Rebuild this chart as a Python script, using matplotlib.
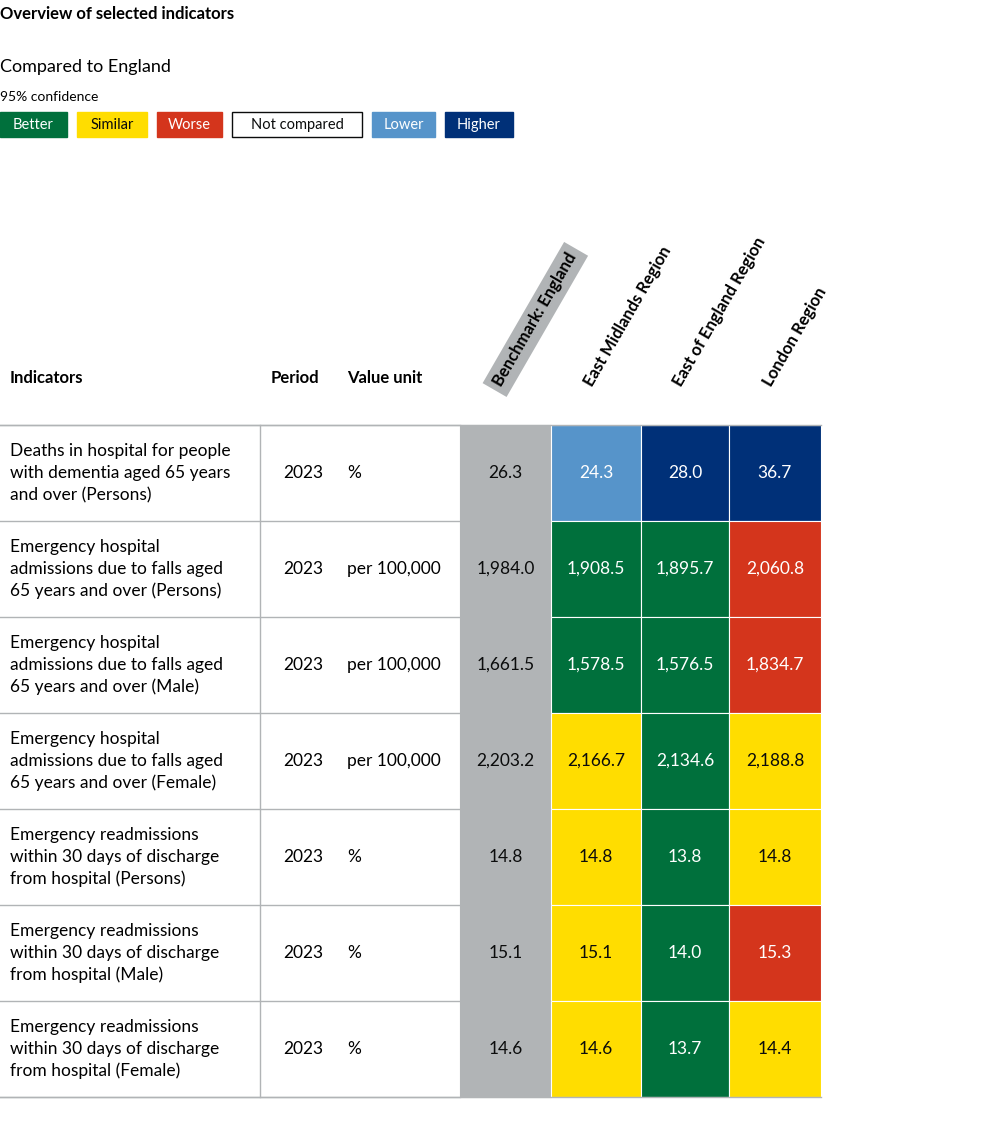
import matplotlib.pyplot as plt
from matplotlib.patches import Rectangle

plt.rcParams['font.family'] = ['Lato', 'DejaVu Sans']

indicators = [
    "Deaths in hospital for people\nwith dementia aged 65 years\nand over (Persons)",
    "Emergency hospital\nadmissions due to falls aged\n65 years and over (Persons)",
    "Emergency hospital\nadmissions due to falls aged\n65 years and over (Male)",
    "Emergency hospital\nadmissions due to falls aged\n65 years and over (Female)",
    "Emergency readmissions\nwithin 30 days of discharge\nfrom hospital (Persons)",
    "Emergency readmissions\nwithin 30 days of discharge\nfrom hospital (Male)",
    "Emergency readmissions\nwithin 30 days of discharge\nfrom hospital (Female)",
]
periods = ["2023"] * 7
units = ["%", "per 100,000", "per 100,000", "per 100,000", "%", "%", "%"]
areas = ["Benchmark: England", "East Midlands Region", "East of England Region", "London Region"]
values = [
    ["26.3", "24.3", "28.0", "36.7"],
    ["1,984.0", "1,908.5", "1,895.7", "2,060.8"],
    ["1,661.5", "1,578.5", "1,576.5", "1,834.7"],
    ["2,203.2", "2,166.7", "2,134.6", "2,188.8"],
    ["14.8", "14.8", "13.8", "14.8"],
    ["15.1", "15.1", "14.0", "15.3"],
    ["14.6", "14.6", "13.7", "14.4"],
]
status = [
    ["bench", "lower", "higher", "higher"],
    ["bench", "better", "better", "worse"],
    ["bench", "better", "better", "worse"],
    ["bench", "similar", "better", "similar"],
    ["bench", "similar", "better", "similar"],
    ["bench", "similar", "better", "worse"],
    ["bench", "similar", "better", "similar"],
]
legend_labels = ["Better", "Similar", "Worse", "Not compared", "Lower", "Higher"]
legend_keys = ["better", "similar", "worse", "none", "lower", "higher"]

colors = {"better": "#00703c", "similar": "#ffdd00", "worse": "#d4351c",
          "none": "#ffffff", "lower": "#5694ca", "higher": "#003078", "bench": "#b1b4b6"}
text_col = {"better": "white", "similar": "#0b0c0c", "worse": "white", "none": "#0b0c0c",
            "lower": "white", "higher": "white", "bench": "#0b0c0c"}

fig = plt.figure(figsize=(9.82, 11.28), dpi=100)
ax = fig.add_axes([0, 0, 1, 1])
ax.set_xlim(0, 982)
ax.set_ylim(1128, 0)
ax.axis('off')

ax.text(0, 14, "Overview of selected indicators", fontsize=12, fontweight='bold', va='center')
ax.text(0, 67, "Compared to England", fontsize=13, va='center')
ax.text(0, 97, "95% confidence", fontsize=10, va='center')

leg_x = [0, 77, 157, 232, 372, 445]
leg_w = [67, 70, 65, 130, 63, 68]
for lbl, key, x, w in zip(legend_labels, legend_keys, leg_x, leg_w):
    ax.add_patch(Rectangle((x, 112), w, 25, facecolor=colors[key],
                           edgecolor='#0b0c0c' if key == "none" else colors[key], lw=1))
    ax.text(x + w / 2, 125, lbl, fontsize=10.5, ha='center', va='center', color=text_col[key])

# header
ax.text(10, 378, "Indicators", fontsize=12, fontweight='bold', va='center')
ax.text(271, 378, "Period", fontsize=12, fontweight='bold', va='center')
ax.text(347, 378, "Value unit", fontsize=12, fontweight='bold', va='center')

col_x = [460, 551, 641, 729]
col_w = [91, 90, 88, 92]
for i, name in enumerate(areas):
    cx = col_x[i] + col_w[i] / 2
    kw = dict(boxstyle='square,pad=0.35', fc='#b1b4b6', ec='none') if i == 0 else None
    ax.text(cx - 8, 385, name, fontsize=12, fontweight='bold', rotation=60,
            rotation_mode='anchor', ha='left', va='center', bbox=kw)

top, rh = 425, 96
n = len(indicators)
for r in range(n):
    y = top + r * rh
    for c in range(4):
        k = status[r][c]
        ax.add_patch(Rectangle((col_x[c], y), col_w[c], rh, facecolor=colors[k],
                               edgecolor='white' if c > 0 else colors[k], lw=0.8))
        ax.text(col_x[c] + col_w[c] / 2, y + rh / 2, values[r][c], fontsize=12.5,
                ha='center', va='center', color=text_col[k])
    ax.text(10, y + rh / 2, indicators[r], fontsize=12.5, va='center', linespacing=1.45)
    ax.text(303, y + rh / 2, periods[r], fontsize=12.5, ha='center', va='center')
    ax.text(347, y + rh / 2, units[r], fontsize=12.5, va='center')

for r in range(n + 1):
    ax.plot([0, 460], [top + r * rh] * 2, color='#b1b4b6', lw=1)
ax.plot([0, 821], [top, top], color='#b1b4b6', lw=1)
ax.plot([0, 821], [top + n * rh] * 2, color='#b1b4b6', lw=1)
ax.plot([260, 260], [top, top + n * rh], color='#b1b4b6', lw=1)

fig.savefig('out.png', dpi=100)
